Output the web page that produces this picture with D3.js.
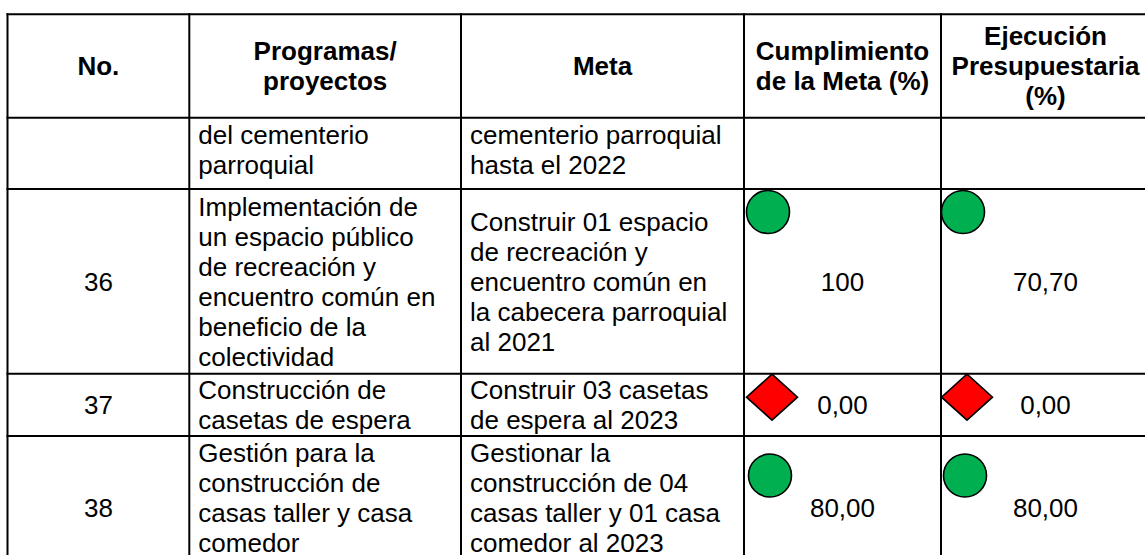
<!DOCTYPE html>
<html>
<head>
<meta charset="utf-8">
<script src="https://cdn.jsdelivr.net/npm/d3@7"></script>
<style>
html, body { margin: 0; padding: 0; background: #fff; }
svg { display: block; font-family: "Liberation Sans", Arial, sans-serif; }
</style>
</head>
<body>
<svg id="chart" width="1145" height="555"></svg>
<script>
// ---------------- DATA ----------------
const headers = ["No.", "Programas/\nproyectos", "Meta", "Cumplimiento\nde la Meta (%)", "Ejecución\nPresupuestaria\n(%)"];
const rowNumbers = ["", "36", "37", "38"];
const programas = [
  "del cementerio\nparroquial",
  "Implementación de\nun espacio público\nde recreación y\nencuentro común en\nbeneficio de la\ncolectividad",
  "Construcción de\ncasetas de espera",
  "Gestión para la\nconstrucción de\ncasas taller y casa\ncomedor"
];
const metas = [
  "cementerio parroquial\nhasta el 2022",
  "Construir 01 espacio\nde recreación y\nencuentro común en\nla cabecera parroquial\nal 2021",
  "Construir 03 casetas\nde espera al 2023",
  "Gestionar la\nconstrucción de 04\ncasas taller y 01 casa\ncomedor al 2023"
];
const cumplimiento = [null, 100, 0, 80];
const cumplimientoLabels = ["", "100", "0,00", "80,00"];
const ejecucion = [null, 70.70, 0, 80];
const ejecucionLabels = ["", "70,70", "0,00", "80,00"];

// ---------------- LAYOUT ----------------
const colEdges = [7.5, 189.3, 461, 744, 941, 1150];
const rowEdges = [14.3, 117.7, 189, 373.7, 436, 580];
const textVAlign = ["top", "middle", "middle", "top"];
const markerDy = [0, 23, 23.5, 39.5];
const markerDx = [[0, 0], [24, 22], [28, 26], [26, 24]];
const fontSize = 26, lineH = 30, baseOff = 9.2, padX = 9;
const green = "#00B050", red = "#FF0000";

const svg = d3.select("#chart");
const x = d3.scaleLinear().domain(d3.range(colEdges.length)).range(colEdges);
const y = d3.scaleLinear().domain(d3.range(rowEdges.length)).range(rowEdges);
const status = d3.scaleThreshold().domain([50]).range(["bad", "good"]);

function drawText(g, str, tx, anchor, valign, top, bottom, weight) {
  const lines = str.split("\n");
  let first;
  if (valign === "top") first = top + 26;
  else first = (top + bottom) / 2 - (lines.length - 1) * lineH / 2 + baseOff;
  const t = g.append("text")
    .attr("x", tx)
    .attr("text-anchor", anchor)
    .attr("font-size", fontSize)
    .attr("font-weight", weight || "normal")
    .attr("fill", "#000");
  lines.forEach((l, i) => {
    t.append("tspan").attr("x", tx).attr("y", first + i * lineH).text(l);
  });
}

// header
const gH = svg.append("g");
headers.forEach((h, c) => {
  drawText(gH, h, (x(c) + x(c + 1)) / 2, "middle", "middle", y(0), y(1), "bold");
});

// body rows
const gB = svg.append("g");
rowNumbers.forEach((num, r) => {
  const top = y(r + 1), bottom = y(r + 2);
  if (num) drawText(gB, num, (x(0) + x(1)) / 2, "middle", "middle", top, bottom);
  drawText(gB, programas[r], x(1) + padX, "start", textVAlign[r], top, bottom);
  drawText(gB, metas[r], x(2) + padX, "start", textVAlign[r], top, bottom);
  if (cumplimientoLabels[r]) drawText(gB, cumplimientoLabels[r], (x(3) + x(4)) / 2, "middle", "middle", top, bottom);
  if (ejecucionLabels[r]) drawText(gB, ejecucionLabels[r], (x(4) + x(5)) / 2, "middle", "middle", top, bottom);
});

// grid lines
const gL = svg.append("g").attr("stroke", "#000").attr("stroke-width", 2);
rowEdges.forEach((_, i) => {
  gL.append("line").attr("x1", x(0) - 1).attr("x2", x(colEdges.length - 1) + 1)
    .attr("y1", y(i)).attr("y2", y(i));
});
colEdges.forEach((_, i) => {
  gL.append("line").attr("x1", x(i)).attr("x2", x(i))
    .attr("y1", y(0) - 1).attr("y2", y(rowEdges.length - 1));
});

// markers
const gM = svg.append("g");
const series = [cumplimiento, ejecucion];
series.forEach((vals, s) => {
  vals.forEach((v, r) => {
    if (v === null) return;
    const cx = x(3 + s) + markerDx[r][s];
    const cy = y(r + 1) + markerDy[r];
    if (status(v) === "good") {
      gM.append("circle").attr("cx", cx).attr("cy", cy).attr("r", 21.5)
        .attr("fill", green).attr("stroke", "#000").attr("stroke-width", 1.6);
    } else {
      const p = d3.path();
      p.moveTo(cx, cy - 23); p.lineTo(cx + 25.5, cy); p.lineTo(cx, cy + 23); p.lineTo(cx - 25.5, cy); p.closePath();
      gM.append("path").attr("d", p.toString())
        .attr("fill", red).attr("stroke", "#000").attr("stroke-width", 1.6);
    }
  });
});
</script>
</body>
</html>
